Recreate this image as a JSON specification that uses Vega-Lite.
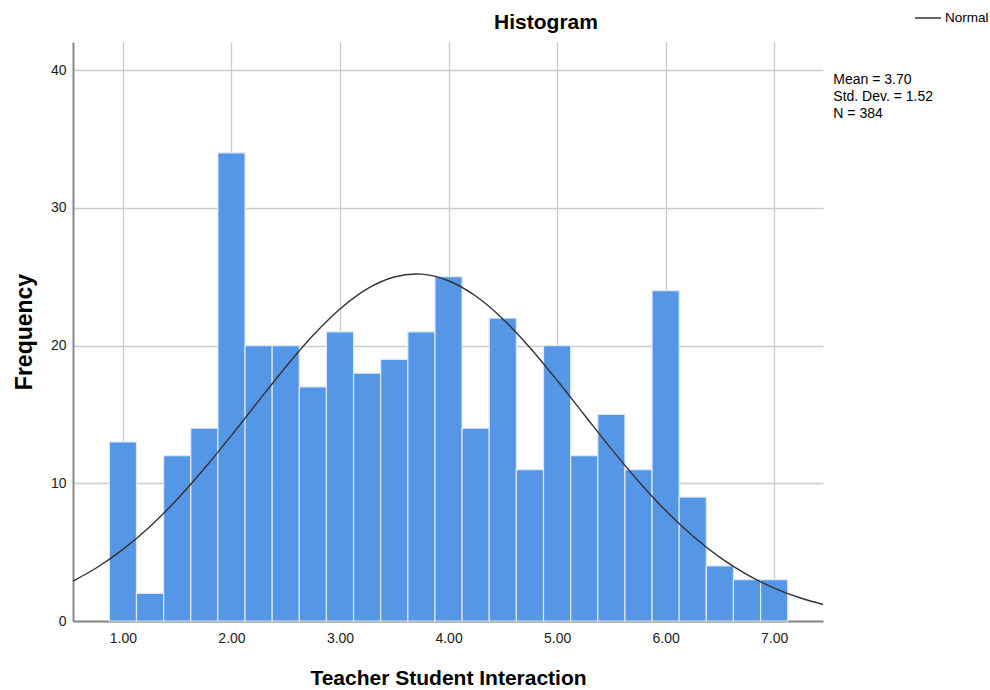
{
  "$schema": "https://vega.github.io/schema/vega-lite/v6.json",
  "width": 750,
  "height": 579,
  "autosize": {"type": "none"},
  "padding": {"left": 73, "top": 42, "right": 167, "bottom": 69},
  "background": "white",
  "title": {"text": "Histogram", "anchor": "middle", "dx": 98, "dy": 38, "offset": 9, "font": "Liberation Sans", "fontSize": 21, "fontWeight": "bold", "color": "#000"},
  "config": {
    "view": {"stroke": null},
    "axis": {"labelFont": "Liberation Sans", "titleFont": "Liberation Sans", "labelFontSize": 14, "labelColor": "#222", "titleFontSize": 21, "titleFontWeight": "bold", "titleColor": "#000", "gridColor": "#cccccc", "gridWidth": 1.3, "domainColor": "#888", "domainWidth": 2, "ticks": false},
    "legend": {"labelFont": "Liberation Sans"}
  },
  "layer": [
    {
      "data": {"values": [
        {"bin_start": 0.875, "bin_end": 1.125, "count": 13},
        {"bin_start": 1.125, "bin_end": 1.375, "count": 2},
        {"bin_start": 1.375, "bin_end": 1.625, "count": 12},
        {"bin_start": 1.625, "bin_end": 1.875, "count": 14},
        {"bin_start": 1.875, "bin_end": 2.125, "count": 34},
        {"bin_start": 2.125, "bin_end": 2.375, "count": 20},
        {"bin_start": 2.375, "bin_end": 2.625, "count": 20},
        {"bin_start": 2.625, "bin_end": 2.875, "count": 17},
        {"bin_start": 2.875, "bin_end": 3.125, "count": 21},
        {"bin_start": 3.125, "bin_end": 3.375, "count": 18},
        {"bin_start": 3.375, "bin_end": 3.625, "count": 19},
        {"bin_start": 3.625, "bin_end": 3.875, "count": 21},
        {"bin_start": 3.875, "bin_end": 4.125, "count": 25},
        {"bin_start": 4.125, "bin_end": 4.375, "count": 14},
        {"bin_start": 4.375, "bin_end": 4.625, "count": 22},
        {"bin_start": 4.625, "bin_end": 4.875, "count": 11},
        {"bin_start": 4.875, "bin_end": 5.125, "count": 20},
        {"bin_start": 5.125, "bin_end": 5.375, "count": 12},
        {"bin_start": 5.375, "bin_end": 5.625, "count": 15},
        {"bin_start": 5.625, "bin_end": 5.875, "count": 11},
        {"bin_start": 5.875, "bin_end": 6.125, "count": 24},
        {"bin_start": 6.125, "bin_end": 6.375, "count": 9},
        {"bin_start": 6.375, "bin_end": 6.625, "count": 4},
        {"bin_start": 6.625, "bin_end": 6.875, "count": 3},
        {"bin_start": 6.875, "bin_end": 7.125, "count": 3}
      ]},
      "mark": {"type": "rect", "fill": "#5596e6", "stroke": "#dde9f8", "strokeWidth": 1.2},
      "encoding": {
        "x": {"field": "bin_start", "type": "quantitative", "scale": {"domain": [0.54, 7.45], "nice": false, "zero": false}, "axis": {"values": [1, 2, 3, 4, 5, 6, 7], "format": ".2f", "title": "Teacher Student Interaction", "labelPadding": 10, "titlePadding": 22}},
        "x2": {"field": "bin_end"},
        "y": {"field": "count", "type": "quantitative", "scale": {"domain": [0, 42.05], "nice": false}, "axis": {"values": [0, 10, 20, 30, 40], "title": "Frequency", "titleFontSize": 23, "labelPadding": 7, "titlePadding": 14}},
        "y2": {"datum": 0}
      }
    },
    {
      "data": {"values": [
        {"x": 0.54, "density": 2.90},
        {"x": 0.75, "density": 3.83},
        {"x": 1.0, "density": 5.20},
        {"x": 1.25, "density": 6.87},
        {"x": 1.5, "density": 8.84},
        {"x": 1.75, "density": 11.07},
        {"x": 2.0, "density": 13.48},
        {"x": 2.25, "density": 15.99},
        {"x": 2.5, "density": 18.45},
        {"x": 2.75, "density": 20.73},
        {"x": 3.0, "density": 22.66},
        {"x": 3.25, "density": 24.12},
        {"x": 3.5, "density": 24.98},
        {"x": 3.7, "density": 25.20},
        {"x": 3.75, "density": 25.19},
        {"x": 4.0, "density": 24.71},
        {"x": 4.25, "density": 23.60},
        {"x": 4.5, "density": 21.94},
        {"x": 4.75, "density": 19.85},
        {"x": 5.0, "density": 17.48},
        {"x": 5.25, "density": 14.98},
        {"x": 5.5, "density": 12.50},
        {"x": 5.75, "density": 10.15},
        {"x": 6.0, "density": 8.02},
        {"x": 6.25, "density": 6.17},
        {"x": 6.5, "density": 4.62},
        {"x": 6.75, "density": 3.37},
        {"x": 7.0, "density": 2.39},
        {"x": 7.25, "density": 1.65},
        {"x": 7.45, "density": 1.20}
      ]},
      "mark": {"type": "line", "interpolate": "monotone", "strokeWidth": 1.4},
      "encoding": {
        "x": {"field": "x", "type": "quantitative"},
        "y": {"field": "density", "type": "quantitative"},
        "color": {"datum": "Normal", "scale": {"range": ["#333333"]}, "legend": {"title": null, "orient": "none", "legendX": 841, "legendY": -38, "symbolType": "stroke", "symbolSize": 676, "symbolStrokeWidth": 1.5, "labelFontSize": 13.5, "labelColor": "#000", "labelOffset": 3, "padding": 0}}
      }
    },
    {
      "data": {"values": [{"stats": "Mean = 3.70"}]},
      "mark": {"type": "text", "align": "left", "baseline": "top", "font": "Liberation Sans", "fontSize": 14, "lineHeight": 17, "color": "#000", "clip": false, "text": ["Mean = 3.70", "Std. Dev. = 1.52", "N = 384"]},
      "encoding": {
        "x": {"datum": 7.545},
        "y": {"datum": 39.8}
      }
    }
  ]
}
